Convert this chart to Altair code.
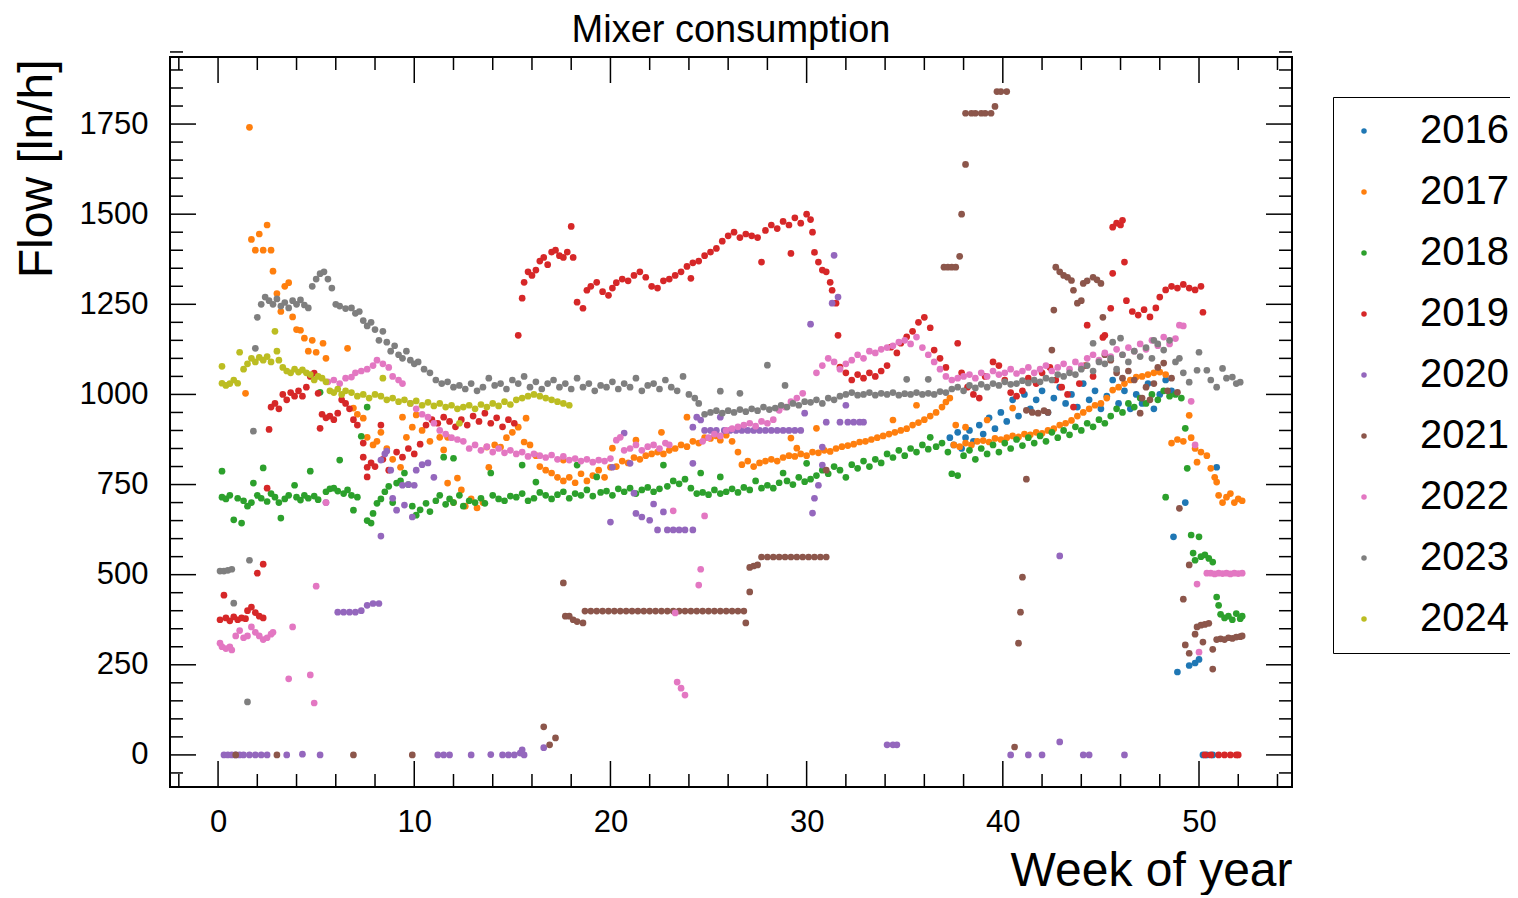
import altair as alt
import pandas as pd

FONT = "Liberation Sans"
YEARS = ["2016", "2017", "2018", "2019", "2020", "2021", "2022", "2023", "2024"]
COLORS = ["#1f77b4", "#ff7f0e", "#2ca02c", "#d62728", "#9467bd",
          "#8c564b", "#e377c2", "#7f7f7f", "#bcbd22"]

# (week of year, flow [ln/h])
Y2016 = [(37.3,880),(37.5,860),(37.7,895),(37.9,850),(38.1,880),(38.3,900),(38.5,870),(38.8,915),
         (39.0,890),(39.3,935),(39.6,905),(39.9,950),(40.2,925),(40.5,985),(40.8,940),(41.1,1000),
         (41.4,960),(41.7,985),(42.0,1010),(42.3,950),(42.6,990),(42.9,1020),(43.2,975),(43.5,1000),
         (43.8,965),(44.1,1030),(44.4,985),(44.7,1010),(45.0,960),(45.3,995),(45.6,1040),(45.9,975),
         (46.2,1010),(46.5,960),(46.8,1000),(47.1,975),(47.4,1030),(47.7,960),(48.0,1000),(48.3,1040),
         (48.6,1010),(48.7,605),(48.9,230),(49.3,700),(49.5,248),(49.8,255),(50.0,265),(50.2,0),
         (50.4,0),(50.7,0),(50.9,798)]

Y2017 = [(1.4,1003),(1.6,1741),(1.7,1430),(1.9,1400),(2.1,1445),(2.3,1400),(2.5,1470),(2.7,1400),
         (2.8,1342),(3.0,1280),(3.2,1230),(3.4,1300),(3.6,1310),(3.8,1215),(4.0,1180),(4.2,1178),
         (4.4,1156),(4.6,1120),(4.8,1150),(5.0,1117),(5.35,1142),(5.5,1100),(6.6,1128),(6.9,962),
         (7.1,945),(7.4,934),(7.6,881),(7.9,860),(8.1,870),(8.3,895),(8.6,850),(8.9,820),(9.3,798),
         (9.4,937),(9.6,881),(9.9,909),(10.1,943),(10.4,900),(10.8,870),(11.3,881),(11.5,846),
         (11.7,754),(11.7,881),(12.0,700),(12.2,768),(12.4,735),(12.6,690),(12.9,710),(13.2,685),
         (13.5,700),(13.8,798),(13.7,854),(14.1,860),(14.4,854),(14.7,880),(15.0,895),(15.3,909),
         (15.6,868),(15.7,934),(15.9,860),(16.2,830),(16.4,800),(16.7,790),(17.0,782),(17.3,770),
         (17.6,818),(17.6,760),(17.9,770),(18.2,755),(18.5,780),(18.8,760),(19.1,775),(19.4,790),
         (19.7,770),(20.0,798),(20.1,851),(20.3,800),(20.6,815),(20.9,810),(21.2,825),(21.3,873),
         (21.5,820),(21.8,830),(22.1,835),(22.4,840),(22.6,895),(22.7,835),(23.0,845),(23.3,850),
         (23.6,860),(23.9,937),(23.9,855),(24.2,870),(24.5,865),(24.8,880),(25.1,878),(25.4,885),
         (25.6,873),(25.9,887),(26.2,870),(26.5,840),(26.7,805),(27.0,815),(27.3,800),(27.6,810),
         (27.9,815),(28.2,820),(28.5,815),(28.8,825),(29.1,830),(29.2,879),(29.4,828),(29.5,851),
         (29.7,835),(30.0,830),(30.3,840),(30.5,906),(30.6,838),(30.9,845),(31.2,842),(31.5,850),
         (31.8,855),(32.1,858),(32.4,862),(32.7,868),(33.0,870),(33.3,875),(33.6,880),(33.9,885),
         (34.2,890),(34.4,929),(34.5,895),(34.8,900),(35.1,905),(35.4,915),(35.6,970),(35.7,922),
         (36.0,930),(36.3,940),(36.6,950),(36.9,965),(37.1,979),(37.3,990),(37.5,860),(37.6,915),
         (37.8,855),(38.1,909),(38.1,865),(38.4,860),(38.7,870),(39.0,872),(39.2,929),(39.3,868),
         (39.6,878),(39.9,875),(40.2,880),(40.5,962),(40.5,885),(40.8,882),(41.1,890),(41.4,888),
         (41.7,895),(42.0,892),(42.3,900),(42.6,905),(42.9,915),(43.2,920),(43.5,928),(43.8,940),
         (44.1,950),(44.4,960),(44.7,970),(45.0,975),(45.3,990),(45.6,1012),(45.9,1020),(46.2,1030),
         (46.5,1040),(46.8,1048),(47.1,1050),(47.4,1055),(47.7,1060),(48.0,1062),(48.3,1055),
         (48.6,865),(48.9,875),(49.2,870),(49.5,942),(49.6,880),(49.8,850),(49.9,812),(50.1,840),
         (50.4,830),(50.6,795),(50.8,770),(50.9,757),(51.0,720),(51.2,700),(51.4,715),(51.6,725),
         (51.8,700),(52.0,710),(52.2,705)]

Y2018 = [(0.2,787),(0.2,715),(0.4,710),(0.6,720),(0.8,652),(1.0,712),(1.2,643),(1.3,705),(1.5,690),
         (1.7,700),(1.8,754),(2.0,720),(2.2,712),(2.3,796),(2.5,703),(2.7,725),(2.9,715),(3.1,700),
         (3.2,657),(3.4,710),(3.6,720),(3.9,748),(4.0,715),(4.2,707),(4.4,720),(4.6,712),(4.7,787),
         (4.9,718),(5.1,708),(5.2,1006),(5.5,730),(5.7,738),(5.9,740),(6.1,732),(6.2,818),(6.4,725),
         (6.6,735),(6.8,720),(6.9,679),(7.1,715),(7.3,884),(7.6,965),(7.6,650),(7.8,643),(7.9,670),
         (8.1,698),(8.3,710),(8.5,730),(8.7,745),(8.9,700),(9.1,754),(9.3,760),(9.5,782),(9.7,750),
         (9.9,690),(10.1,665),(10.3,680),(10.6,698),(10.8,675),(11.1,705),(11.3,720),(11.5,826),
         (11.6,695),(11.8,710),(12.0,823),(12.0,700),(12.3,720),(12.5,690),(12.8,705),(13.1,700),
         (13.4,712),(13.6,698),(13.9,782),(14.0,720),(14.3,710),(14.6,705),(14.9,718),(15.2,715),
         (15.5,804),(15.5,725),(15.8,705),(16.1,712),(16.2,757),(16.4,728),(16.7,720),(17.0,710),
         (17.3,722),(17.6,730),(17.9,712),(18.2,725),(18.3,804),(18.5,720),(18.8,735),(19.1,718),
         (19.3,771),(19.5,728),(19.8,732),(20.1,720),(20.4,738),(20.7,730),(21.0,740),(21.3,725),
         (21.6,735),(21.9,742),(22.2,730),(22.5,738),(22.7,804),(22.9,745),(23.2,760),(23.5,752),
         (23.8,765),(24.1,740),(24.4,725),(24.6,782),(24.7,728),(25.0,722),(25.3,735),(25.6,771),
         (25.6,725),(25.9,730),(26.2,738),(26.5,728),(26.8,742),(27.1,735),(27.4,760),(27.7,740),
         (28.0,748),(28.3,740),(28.6,755),(28.8,782),(29.0,760),(29.3,750),(29.6,770),(29.9,758),
         (30.0,809),(30.2,765),(30.5,775),(30.8,790),(31.1,780),(31.4,800),(31.7,790),(32.0,770),
         (32.3,805),(32.6,795),(32.9,815),(33.2,800),(33.5,820),(33.8,810),(34.1,835),(34.4,825),
         (34.7,845),(35.0,830),(35.3,850),(35.6,840),(35.9,860),(36.2,848),(36.3,881),(36.6,855),
         (36.9,865),(37.2,840),(37.4,780),(37.7,775),(38.0,830),(38.3,845),(38.6,820),(38.9,850),
         (39.2,835),(39.5,860),(39.8,840),(40.1,865),(40.4,850),(40.7,875),(41.0,858),(41.3,880),
         (41.6,865),(41.9,885),(42.2,870),(42.5,895),(42.8,880),(43.1,900),(43.4,888),(43.7,910),
         (44.0,900),(44.3,920),(44.6,910),(44.9,930),(45.2,920),(45.5,940),(45.8,960),(46.1,950),
         (46.4,975),(46.7,965),(47.0,990),(47.3,975),(47.6,1000),(47.9,985),(48.2,1010),(48.3,715),
         (48.5,995),(48.8,1000),(49.1,990),(49.3,906),(49.4,795),(49.6,610),(49.7,560),(49.8,540),
         (50.0,605),(50.1,550),(50.3,555),(50.5,545),(50.7,535),(50.9,438),(51.0,415),(51.1,390),
         (51.3,380),(51.5,385),(51.7,375),(51.9,392),(52.1,378),(52.2,385)]

Y2019 = [(0.1,375),(0.3,443),(0.4,380),(0.6,372),(0.8,383),(1.0,375),(1.2,380),(1.4,378),(1.5,400),
         (1.7,410),(1.9,395),(2.0,504),(2.1,385),(2.3,529),(2.3,380),(2.5,740),(2.6,903),(2.7,965),
         (2.9,975),(3.1,960),(3.3,1000),(3.5,985),(3.7,1005),(3.9,995),(4.1,1010),(4.3,995),
         (4.5,1020),(4.7,1050),(4.9,1059),(5.1,1003),(5.2,906),(5.3,945),(5.5,935),(5.7,940),
         (5.9,930),(6.1,948),(6.3,985),(6.5,975),(6.7,960),(6.9,930),(7.1,915),(7.4,865),(7.4,826),
         (7.6,798),(7.6,771),(7.8,810),(8.0,800),(8.3,915),(8.4,820),(8.7,790),(9.1,840),(9.4,826),
         (9.7,850),(10.0,835),(10.3,862),(10.6,915),(10.9,930),(11.2,920),(11.5,937),(11.8,925),
         (12.1,910),(12.4,930),(12.7,915),(13.0,940),(13.3,925),(13.6,948),(13.9,920),(14.2,935),
         (14.5,910),(14.8,930),(15.1,920),(15.3,1164),(15.5,1267),(15.6,1311),(15.8,1340),
         (16.0,1330),(16.2,1345),(16.4,1370),(16.6,1380),(16.8,1360),(17.0,1395),(17.2,1400),
         (17.4,1385),(17.6,1380),(17.8,1395),(18.0,1466),(18.1,1380),(18.3,1256),(18.6,1239),
         (18.8,1289),(19.0,1300),(19.3,1311),(19.6,1285),(19.9,1275),(20.1,1295),(20.3,1310),
         (20.6,1320),(20.9,1315),(21.2,1330),(21.5,1340),(21.8,1325),(22.1,1300),(22.4,1295),
         (22.7,1315),(23.0,1320),(23.3,1330),(23.6,1340),(23.9,1355),(24.1,1322),(24.2,1365),
         (24.5,1370),(24.8,1385),(25.1,1395),(25.4,1405),(25.7,1425),(26.0,1440),(26.3,1450),
         (26.6,1435),(26.9,1445),(27.2,1440),(27.5,1435),(27.7,1367),(27.9,1455),(28.2,1470),
         (28.5,1460),(28.8,1480),(29.1,1470),(29.2,1391),(29.4,1490),(29.7,1475),(30.0,1500),
         (30.2,1485),(30.3,1450),(30.4,1394),(30.6,1367),(30.8,1345),(31.0,1340),(31.2,1311),
         (31.3,1289),(31.5,1253),(31.6,1164),(31.7,1076),(32.0,1060),(32.3,1040),(32.6,1055),
         (32.9,1045),(33.2,1060),(33.5,1050),(33.8,1065),(34.1,1080),(34.3,1131),(34.6,1115),
         (34.8,1142),(35.1,1160),(35.4,1175),(35.7,1200),(36.0,1214),(36.3,1185),(36.5,1123),
         (36.8,1100),(37.1,1075),(37.7,1142),(37.9,1060),(38.2,1020),(38.5,1000),(38.8,990),
         (39.1,1050),(39.5,1090),(39.8,1080),(40.1,1040),(40.4,1005),(40.7,995),(41.0,1010),
         (41.3,1045),(41.7,1030),(42.0,1060),(42.4,1075),(42.7,1040),(43.0,1020),(43.3,1000),
         (43.6,965),(43.9,1030),(44.2,1080),(44.3,1192),(44.6,1050),(45.1,1158),(45.2,1164),
         (45.5,1239),(45.6,1336),(45.6,1464),(45.8,1475),(46.0,1470),(46.1,1483),(46.2,1367),
         (46.3,1260),(46.6,1230),(46.9,1220),(47.2,1235),(47.5,1215),(47.8,1240),(48.0,1270),
         (48.3,1290),(48.6,1300),(48.9,1295),(49.2,1305),(49.5,1295),(49.8,1290),(50.1,1300),
         (50.2,1228),(50.3,0),(50.6,0),(51.0,0),(51.3,0),(51.6,0),(51.9,0),(52.0,0)]

Y2020 = [(0.3,0),(0.5,0),(0.7,0),(0.9,0),(1.1,0),(1.3,0),(1.6,0),(1.9,0),(2.2,0),(2.5,0),(3.5,0),
         (4.3,2),(5.2,0),(5.5,700),(6.1,396),(6.4,396),(6.7,396),(7.0,396),(7.3,400),(7.6,415),
         (7.9,420),(8.2,420),(8.3,607),(8.3,818),(8.5,835),(8.6,843),(8.8,790),(8.9,712),(9.1,679),
         (9.4,748),(9.5,693),(9.7,750),(9.9,660),(10.0,748),(10.1,790),(10.4,805),(10.7,810),
         (11.0,770),(11.2,0),(11.5,0),(11.8,0),(12.9,0),(13.9,1),(14.5,0),(14.8,0),(15.1,0),
         (15.4,5),(15.5,14),(15.6,0),(16.6,20),(20.0,646),(20.1,798),(20.7,893),(21.0,809),
         (21.2,726),(21.3,670),(21.6,660),(22.0,651),(22.2,696),(22.4,624),(22.7,674),(22.9,624),
         (23.2,624),(23.5,624),(23.8,624),(24.2,624),(24.2,809),(24.2,909),(24.4,937),(24.6,929),
         (24.8,900),(25.1,900),(25.4,900),(25.6,937),(25.8,900),(26.1,900),(26.4,900),(26.7,900),
         (27.0,900),(27.3,900),(27.6,900),(27.9,900),(28.2,900),(28.5,900),(28.8,900),(29.1,900),
         (29.4,900),(29.7,900),(29.9,948),(30.2,1195),(30.3,671),(30.4,712),(30.6,748),(30.8,804),
         (30.8,854),(31.0,923),(31.3,1253),(31.4,1386),(31.6,1270),(31.7,923),(32.0,970),(32.1,923),
         (32.4,923),(32.7,923),(32.9,923),(34.1,28),(34.4,28),(34.6,28),(40.4,0),(41.3,0),(42.0,0),
         (42.9,36),(42.9,552),(44.1,0),(44.4,0),(46.2,0)]

Y2021 = [(0.9,0),(3.0,0),(6.9,0),(9.9,0),(16.6,78),(16.9,28),(17.2,47),(17.6,477),(17.7,385),
         (17.9,385),(18.1,375),(18.3,370),(18.6,366),(18.7,399),(19.0,399),(19.3,399),(19.6,399),
         (19.9,399),(20.2,399),(20.5,399),(20.8,399),(21.1,399),(21.4,399),(21.7,399),(22.0,399),
         (22.3,399),(22.6,399),(22.9,399),(23.2,399),(23.5,399),(23.8,399),(24.1,399),(24.4,399),
         (24.7,399),(25.0,399),(25.3,399),(25.6,399),(25.9,399),(26.2,399),(26.5,399),(26.8,399),
         (26.9,366),(27.1,452),(27.1,520),(27.3,524),(27.5,527),(27.7,549),(28.0,549),(28.3,549),
         (28.6,549),(28.9,549),(29.2,549),(29.5,549),(29.8,549),(30.1,549),(30.4,549),(30.7,549),
         (31.0,549),(31.0,790),(37.0,1353),(37.2,1353),(37.4,1353),(37.6,1353),(37.8,1383),
         (37.9,1500),(38.1,1638),(38.1,1780),(38.4,1780),(38.6,1780),(38.9,1780),(39.1,1780),
         (39.4,1780),(39.6,1799),(39.7,1840),(39.9,1840),(40.2,1840),(40.6,22),(40.8,310),(40.9,396),
         (41.0,493),(41.2,765),(41.2,956),(41.5,950),(41.8,948),(42.1,955),(42.3,950),(42.5,1123),
         (42.6,1234),(42.7,1353),(42.9,1340),(43.1,1330),(43.3,1325),(43.5,1316),(43.6,1289),
         (43.8,1253),(44.0,1260),(44.1,1308),(44.3,1315),(44.6,1325),(44.8,1318),(45.0,1308),
         (45.1,1214),(45.2,1110),(45.5,1095),(45.8,1060),(46.1,1045),(46.4,1065),(46.7,1040),
         (47.0,948),(47.1,990),(47.3,1020),(47.5,985),(47.7,1030),(47.9,1075),(48.2,1087),
         (48.4,1010),(48.6,1045),(48.9,1006),(49.0,684),(49.2,432),(49.3,305),(49.5,282),(49.5,527),
         (49.8,335),(49.9,355),(50.1,360),(50.2,313),(50.3,362),(50.5,365),(50.7,238),(50.7,293),
         (50.9,320),(51.1,322),(51.3,320),(51.5,325),(51.7,323),(51.9,327),(52.1,328),(52.2,330)]

Y2022 = [(0.1,310),(0.2,300),(0.4,295),(0.6,300),(0.7,291),(0.9,330),(1.1,345),(1.3,325),(1.5,330),
         (1.7,355),(1.9,340),(2.1,330),(2.3,320),(2.5,325),(2.7,335),(2.8,340),(3.6,211),(3.8,355),
         (4.7,222),(4.9,144),(5.0,468),(5.5,700),(5.6,1035),(5.9,1040),(6.2,1030),(6.5,1045),
         (6.8,1048),(7.0,1060),(7.3,1065),(7.6,1070),(7.9,1080),(8.1,1095),(8.4,1085),(8.7,1075),
         (8.9,1050),(9.2,1040),(9.4,1030),(9.8,975),(10.1,960),(10.4,945),(10.7,937),(11.0,920),
         (11.3,900),(11.6,890),(11.9,880),(12.2,875),(12.5,870),(12.8,850),(13.1,860),(13.4,845),
         (13.7,855),(14.0,840),(14.3,850),(14.6,838),(14.9,845),(15.2,835),(15.5,840),(15.8,828),
         (16.1,835),(16.4,830),(16.7,825),(17.0,832),(17.3,820),(17.6,828),(17.9,818),(18.2,822),
         (18.5,815),(18.8,820),(19.1,812),(19.4,818),(19.7,815),(20.0,822),(20.3,873),(20.5,881),
         (20.7,845),(21.0,850),(21.3,860),(21.6,845),(21.9,855),(22.2,860),(22.5,850),(22.8,865),
         (23.0,860),(23.2,677),(23.3,394),(23.4,202),(23.6,185),(23.8,166),(24.5,471),(24.6,515),
         (24.8,663),(24.7,870),(25.0,880),(25.3,890),(25.6,885),(25.9,900),(26.2,905),(26.5,910),
         (26.8,915),(27.1,920),(27.4,912),(27.7,925),(28.0,920),(28.3,930),(28.6,956),(28.9,965),
         (29.2,980),(29.5,990),(29.8,1003),(30.5,1060),(30.8,1080),(31.1,1100),(31.4,1090),
         (31.7,1070),(32.0,1085),(32.3,1095),(32.6,1110),(32.9,1100),(33.2,1120),(33.5,1115),
         (33.8,1125),(34.1,1130),(34.4,1135),(34.7,1145),(35.0,1150),(35.3,1140),(35.6,1159),
         (35.9,1130),(36.2,1110),(36.5,1090),(36.8,1070),(37.1,1050),(37.4,1040),(37.7,1045),
         (38.0,1050),(38.3,1055),(38.6,1045),(38.9,1060),(39.2,1050),(39.5,1065),(39.8,1055),
         (40.1,1060),(40.4,1070),(40.7,1058),(41.0,1065),(41.3,1075),(41.6,1060),(41.9,1070),
         (42.2,1080),(42.5,1065),(42.8,1075),(43.1,1085),(43.4,1070),(43.7,1090),(44.0,1080),
         (44.3,1100),(44.6,1110),(44.9,1095),(45.2,1115),(45.5,1105),(45.8,1125),(46.1,1110),
         (46.4,1130),(46.7,1120),(47.0,1140),(47.3,1125),(47.6,1150),(47.9,1135),(48.2,1159),
         (48.5,1140),(48.8,1155),(49.0,1192),(49.2,1190),(49.6,981),(49.8,860),(49.9,474),(50.0,285),
         (50.4,504),(50.6,504),(50.8,502),(51.0,504),(51.2,503),(51.4,504),(51.6,502),(51.8,504),
         (52.0,503),(52.2,504)]

Y2023 = [(0.1,510),(0.3,510),(0.5,512),(0.7,515),(0.8,421),(1.5,147),(1.6,540),(1.8,898),(1.9,1128),
         (2.0,1214),(2.2,1250),(2.4,1270),(2.6,1260),(2.8,1250),(3.0,1265),(3.2,1245),(3.4,1255),
         (3.6,1240),(3.8,1260),(4.0,1250),(4.2,1262),(4.4,1248),(4.6,1240),(4.8,1300),(5.0,1320),
         (5.2,1335),(5.4,1340),(5.6,1320),(5.8,1295),(6.0,1250),(6.2,1245),(6.5,1238),(6.8,1240),
         (7.0,1225),(7.2,1230),(7.4,1205),(7.6,1190),(7.8,1200),(8.0,1180),(8.2,1150),(8.4,1175),
         (8.6,1145),(8.8,1120),(9.0,1135),(9.2,1110),(9.4,1100),(9.6,1120),(9.8,1095),(10.0,1085),
         (10.2,1090),(10.5,1070),(10.8,1060),(11.1,1040),(11.4,1030),(11.7,1035),(12.0,1020),
         (12.3,1025),(12.6,1015),(12.9,1030),(13.2,1010),(13.5,1020),(13.8,1045),(14.1,1025),
         (14.4,1030),(14.7,1015),(15.0,1040),(15.3,1030),(15.6,1050),(15.9,1020),(16.2,1035),
         (16.5,1015),(16.8,1030),(17.1,1040),(17.4,1020),(17.7,1030),(18.0,1015),(18.3,1045),
         (18.6,1020),(18.9,1030),(19.2,1010),(19.5,1025),(19.8,1020),(20.1,1035),(20.4,1015),
         (20.7,1030),(21.0,1020),(21.3,1045),(21.6,1010),(21.9,1025),(22.2,1030),(22.5,1015),
         (22.8,1040),(23.1,1020),(23.4,1010),(23.7,1050),(24.0,1000),(24.3,990),(24.5,975),(24.8,945),
         (25.1,950),(25.4,955),(25.6,1009),(25.7,948),(26.0,955),(26.3,950),(26.6,1003),(26.6,958),
         (26.9,952),(27.2,960),(27.5,955),(27.8,965),(28.0,1081),(28.1,958),(28.4,962),(28.7,970),
         (28.9,1025),(29.0,965),(29.3,975),(29.6,970),(29.9,980),(30.2,978),(30.5,985),(30.8,975),
         (31.1,990),(31.4,985),(31.7,995),(32.0,1000),(32.3,1005),(32.6,998),(32.9,1000),(33.2,1005),
         (33.5,998),(33.8,1003),(34.1,1000),(34.4,1005),(34.7,998),(35.0,1002),(35.1,1042),
         (35.3,1000),(35.6,1005),(35.9,1000),(36.2,1042),(36.2,1003),(36.5,1000),(36.8,1008),
         (37.1,1005),(37.4,1015),(37.7,1020),(38.0,1010),(38.3,1025),(38.6,1018),(38.9,1028),
         (39.2,1020),(39.5,1030),(39.8,1025),(40.1,1035),(40.4,1028),(40.7,1030),(41.0,1038),
         (41.3,1032),(41.6,1040),(41.9,1035),(42.2,1045),(42.5,1040),(42.8,1055),(43.1,1050),
         (43.4,1060),(43.7,1055),(44.0,1070),(44.3,1080),(44.6,1142),(44.6,1065),(44.9,1090),
         (45.2,1085),(45.5,1100),(45.6,1145),(45.8,1070),(46.0,1156),(46.1,1110),(46.4,1090),
         (46.7,1120),(47.0,1105),(47.3,1130),(47.6,1100),(47.7,1150),(47.9,1140),(48.2,1123),
         (48.5,1150),(48.8,1090),(49.0,1100),(49.2,1060),(49.5,1034),(49.9,1067),(50.0,1117),
         (50.4,1067),(50.6,1040),(50.9,1020),(51.2,1072),(51.4,1045),(51.7,1048),(51.9,1030),
         (52.1,1034)]

Y2024 = [(0.2,1078),(0.2,1031),(0.4,1025),(0.6,1030),(0.8,1040),(1.0,1031),(1.1,1117),(1.3,1070),
         (1.5,1085),(1.7,1100),(1.9,1090),(2.1,1103),(2.3,1095),(2.5,1105),(2.7,1090),(2.9,1175),
         (3.0,1120),(3.1,1095),(3.3,1075),(3.5,1065),(3.7,1060),(3.9,1070),(4.1,1062),(4.3,1068),
         (4.5,1060),(4.7,1055),(4.9,1040),(5.1,1050),(5.3,1045),(5.5,1035),(5.7,1010),(5.9,1005),
         (6.1,1015),(6.3,1000),(6.5,1010),(6.8,1005),(7.1,995),(7.4,1000),(7.7,990),(8.0,1000),
         (8.3,995),(8.4,1045),(8.6,985),(8.9,990),(9.2,980),(9.5,985),(9.8,975),(10.1,982),(10.4,970),
         (10.7,978),(11.0,968),(11.3,975),(11.6,965),(11.9,970),(12.2,960),(12.3,920),(12.5,965),
         (12.8,970),(13.1,960),(13.4,972),(13.7,965),(14.0,975),(14.3,968),(14.6,980),(14.9,972),
         (15.2,985),(15.5,990),(15.8,995),(16.1,1000),(16.4,995),(16.7,990),(17.0,985),(17.3,980),
         (17.6,975),(17.9,970)]

X_MAJOR = [0, 10, 20, 30, 40, 50]
X_MINOR = [-2, 2, 4, 6, 8, 12, 14, 16, 18, 22, 24, 26, 28, 32, 34, 36, 38, 42, 44, 46, 48, 52, 54]
Y_MAJOR = [0, 250, 500, 750, 1000, 1250, 1500, 1750]
Y_MINOR = [v for v in range(-50, 1951, 50) if v % 250 != 0]

W, H = 1122, 730
SERIES = [Y2016, Y2017, Y2018, Y2019, Y2020, Y2021, Y2022, Y2023, Y2024]
rows = []
for i, (name, pts) in enumerate(zip(YEARS, SERIES)):
    for wk, fl in pts:
        rows.append({"week": wk, "flow": fl, "year": name, "idx": i})
df = pd.DataFrame(rows)

x_scale = alt.Scale(domain=[-2.45, 54.74], nice=False, zero=False)
y_scale = alt.Scale(domain=[-89, 1936], nice=False, zero=False)

x_axis = alt.Axis(values=X_MAJOR, format="d", ticks=False, tickSize=0, domain=False, grid=False,
                  labelFont=FONT, labelFontSize=31, labelColor="black", labelPadding=20,
                  title="Week of year", titleFont=FONT, titleFontSize=48, titleFontWeight="normal",
                  titleColor="black", titleAnchor="end", titleAlign="right", titleBaseline="alphabetic",
                  titleX=W, titleY=98)
y_axis = alt.Axis(values=Y_MAJOR, format="d", ticks=False, tickSize=0, domain=False, grid=False,
                  labelFont=FONT, labelFontSize=31, labelColor="black", labelPadding=22,
                  title="Flow [ln/h]", titleFont=FONT, titleFontSize=48, titleFontWeight="normal",
                  titleColor="black", titleAngle=270, titleAlign="right", titleBaseline="alphabetic",
                  titleX=-119, titleY=2)

points = alt.Chart(df).mark_circle(size=45, opacity=1, clip=True).encode(
    x=alt.X("week:Q", scale=x_scale, axis=x_axis),
    y=alt.Y("flow:Q", scale=y_scale, axis=y_axis),
    color=alt.Color("year:N", scale=alt.Scale(domain=YEARS, range=COLORS),
                    legend=alt.Legend(title=None, orient="none", legendX=1163, legendY=40,
                                      labelFont=FONT, labelFontSize=40, labelColor="black",
                                      symbolType="circle", symbolSize=30, symbolStrokeWidth=0,
                                      symbolOffset=-3, padding=14, rowPadding=21, labelOffset=36,
                                      strokeColor="black", fillColor="white", cornerRadius=0)),
    order=alt.Order("idx:Q"),
)

def xticks(vals, length):
    d = pd.DataFrame({"week": vals})
    top = alt.Chart(d).mark_rule(color="black", strokeWidth=1.5).encode(
        x=alt.X("week:Q", scale=x_scale), y=alt.value(0), y2=alt.value(length))
    bot = alt.Chart(d).mark_rule(color="black", strokeWidth=1.5).encode(
        x=alt.X("week:Q", scale=x_scale), y=alt.value(H), y2=alt.value(H - length))
    return [top, bot]

def yticks(vals, length):
    d = pd.DataFrame({"flow": vals})
    left = alt.Chart(d).mark_rule(color="black", strokeWidth=1.5).encode(
        y=alt.Y("flow:Q", scale=y_scale), x=alt.value(0), x2=alt.value(length))
    right = alt.Chart(d).mark_rule(color="black", strokeWidth=1.5).encode(
        y=alt.Y("flow:Q", scale=y_scale), x=alt.value(W), x2=alt.value(W - length))
    return [left, right]

layers = [points] + xticks(X_MAJOR, 26) + xticks(X_MINOR, 13) + yticks(Y_MAJOR, 26) + yticks(Y_MINOR, 13)

chart = alt.layer(*layers).properties(
    width=W, height=H,
    title=alt.TitleParams("Mixer consumption", font=FONT, fontSize=38, fontWeight="normal",
                          color="black", anchor="middle", offset=1),
    autosize=alt.AutoSizeParams(type="none"),
    padding={"left": 162, "top": 49, "right": 218, "bottom": 108},
    background="white",
).configure_view(stroke="black", strokeWidth=2)

chart.save("out.html", embed_options={"renderer": "svg", "actions": False})
